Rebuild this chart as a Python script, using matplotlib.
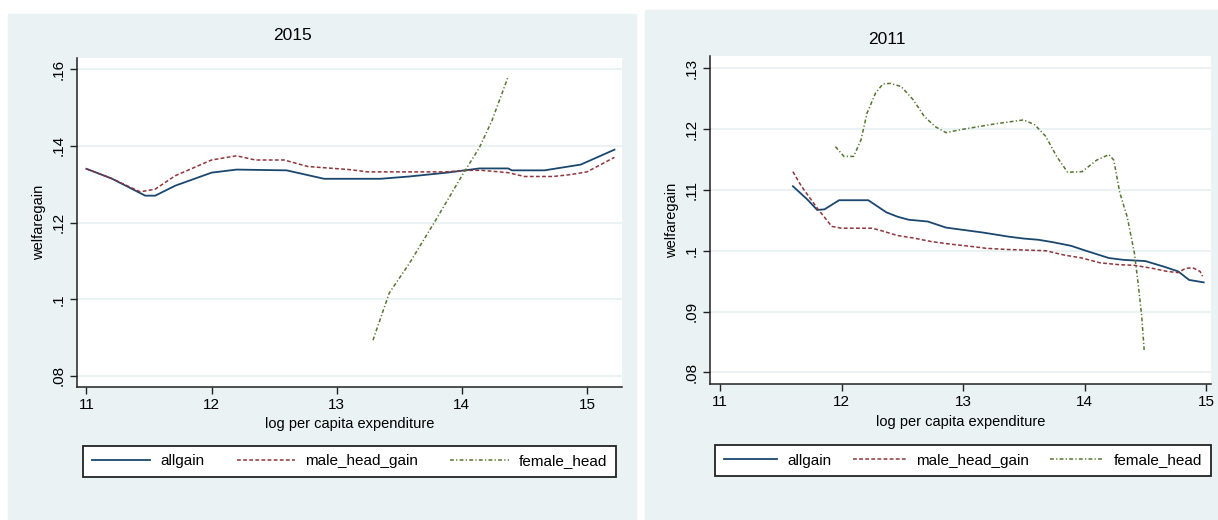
import numpy as np
import matplotlib
matplotlib.use("Agg")
import matplotlib.pyplot as plt
from matplotlib.patches import Rectangle

plt.rcParams['font.family'] = ['Liberation Sans', 'DejaVu Sans']

# 2015 panel
x15_all = [11.0, 11.2, 11.47, 11.55, 11.71, 12.0, 12.2, 12.6, 12.9, 13.35, 13.58, 13.88, 14.14, 14.37, 14.4, 14.66, 14.95, 15.22]
y15_all = [.134, .1315, .127, .127, .1296, .133, .1338, .1336, .1314, .1314, .132, .133, .1341, .1341, .1336, .1336, .1351, .139]
x15_male = [11.0, 11.2, 11.43, 11.55, 11.71, 12.0, 12.2, 12.35, 12.58, 12.77, 13.1, 13.25, 13.87, 14.05, 14.16, 14.37, 14.5, 14.73, 14.87, 15.0, 15.22]
y15_male = [.134, .1315, .128, .1287, .1322, .1363, .1374, .1363, .1363, .1346, .1338, .1332, .1332, .1336, .1336, .133, .132, .132, .1325, .1332, .137]
x15_fem = [13.29, 13.42, 13.58, 13.78, 14.01, 14.14, 14.24, 14.37]
y15_fem = [.0893, .1016, .1093, .120, .1327, .1395, .1465, .158]

# 2011 panel
x11_all = [11.60, 11.72, 11.80, 11.86, 11.98, 12.22, 12.37, 12.46, 12.55, 12.71, 12.86, 13.01, 13.16, 13.38, 13.50, 13.62, 13.74, 13.89, 14.01, 14.20, 14.32, 14.50, 14.65, 14.77, 14.86, 14.98]
y11_all = [.1106, .1084, .1067, .1068, .1083, .1083, .1063, .1056, .1051, .1048, .1038, .1034, .1030, .1023, .1020, .1018, .1014, .1008, .1000, .0988, .0985, .0983, .0974, .0966, .0952, .0948]
x11_male = [11.60, 11.67, 11.80, 11.92, 12.0, 12.25, 12.31, 12.46, 12.59, 12.74, 12.89, 13.07, 13.19, 13.37, 13.68, 13.83, 13.98, 14.13, 14.29, 14.41, 14.56, 14.68, 14.77, 14.83, 14.89, 14.95, 14.97]
y11_male = [.1130, .1106, .1070, .1040, .1037, .1037, .1034, .1025, .1021, .1015, .1011, .1007, .1004, .1002, .1000, .0993, .0988, .0980, .0977, .0976, .0971, .0966, .0964, .0971, .0972, .0966, .0958]
x11_fem = [11.95, 12.02, 12.10, 12.16, 12.21, 12.28, 12.34, 12.40, 12.49, 12.59, 12.68, 12.77, 12.86, 12.98, 13.13, 13.28, 13.50, 13.59, 13.68, 13.77, 13.86, 13.98, 14.10, 14.20, 14.24, 14.29, 14.35, 14.41, 14.44, 14.47, 14.49]
y11_fem = [.1171, .1155, .1155, .1182, .1226, .1259, .1274, .1275, .1270, .1248, .1221, .1204, .1194, .1199, .1204, .1209, .1215, .1207, .1188, .1155, .1129, .1130, .1149, .1158, .1149, .1095, .1056, .0996, .0947, .0892, .0837]

x_ticks = [11, 12, 13, 14, 15]
yt15 = [.08, .1, .12, .14, .16]
yl15 = ['.08', '.1', '.12', '.14', '.16']
yt11 = [.08, .09, .1, .11, .12, .13]
yl11 = ['.08', '.09', '.1', '.11', '.12', '.13']
names = ['allgain', 'male_head_gain', 'female_head']

navy = '#1a476f'
maroon = '#90353b'
green = '#55752f'
bg = '#eaf2f3'

W, H = 1218, 520
fig = plt.figure(figsize=(W / 100, H / 100), dpi=100)
fig.patch.set_facecolor('white')

def px(x0, y0, x1, y1):
    # pixel box -> figure fraction [left, bottom, width, height]
    return [x0 / W, 1 - y1 / H, (x1 - x0) / W, (y1 - y0) / H]

fig.patches.append(Rectangle((8 / W, 0), 628 / W, 1 - 14 / H, transform=fig.transFigure, color=bg, zorder=-5))
fig.patches.append(Rectangle((645 / W, 0), 573 / W, 1 - 10 / H, transform=fig.transFigure, color=bg, zorder=-5))


def panel(box, title, data, xlim, ylim, yt, yl, legbox, title_xy, xlab_y, hl, cs):
    ax = fig.add_axes(px(*box))
    ax.set_zorder(1)
    (xa, ya), (xm, ym), (xf, yf) = data
    l1, = ax.plot(xa, ya, color=navy, lw=1.3, solid_joinstyle='miter')
    l2, = ax.plot(xm, ym, color=maroon, lw=1.1, dashes=(2.5, 1.5))
    l3, = ax.plot(xf, yf, color=green, lw=1.1, dashes=(2.5, 1.5, 0.8, 1.5))
    ax.set_xlim(*xlim)
    ax.set_ylim(*ylim)
    ax.set_xticks(x_ticks)
    ax.set_xticklabels([str(t) for t in x_ticks], fontsize=11)
    ax.set_yticks(yt)
    ax.set_yticklabels(yl, fontsize=11, rotation=90, va='center')
    ax.yaxis.grid(True, color=bg, lw=1.5)
    ax.set_axisbelow(True)
    for s in ['top', 'right']:
        ax.spines[s].set_visible(False)
    for s in ['left', 'bottom']:
        ax.spines[s].set_color('#222222')
        ax.spines[s].set_linewidth(1.1)
    ax.tick_params(length=5, width=1, color='#222222', pad=3)
    fig.text(title_xy[0] / W, 1 - title_xy[1] / H, title, ha='center', va='center', fontsize=12.5)
    fig.text((box[0] + box[2]) / 2 / W, 1 - xlab_y / H, 'log per capita expenditure', ha='center', va='center', fontsize=10.5)
    fig.text((box[0] - 38) / W, 1 - ((box[1] + box[3]) / 2) / H, 'welfaregain', rotation=90, ha='center', va='center', fontsize=10.5)
    lx0, ly0, lx1, ly1 = legbox
    leg = ax.legend([l1, l2, l3], names, loc='center', ncol=3,
                    bbox_to_anchor=((lx0 + lx1) / 2 / W, 1 - (ly0 + ly1) / 2 / H),
                    bbox_transform=fig.transFigure, fancybox=False, framealpha=1,
                    edgecolor='#222222', fontsize=11, handlelength=hl, handletextpad=0.65,
                    borderaxespad=0, borderpad=0.55, columnspacing=cs)
    leg.get_frame().set_linewidth(1.3)
    return ax


panel((77, 58, 622, 387), '2015', [(x15_all, y15_all), (x15_male, y15_male), (x15_fem, y15_fem)],
      (10.925, 15.28), (.0771, .1629), yt15, yl15, (84, 445, 615, 478), (292, 36), 424, 3.85, 2.1)
panel((710, 56, 1211, 384), '2011', [(x11_all, y11_all), (x11_male, y11_male), (x11_fem, y11_fem)],
      (10.918, 15.04), (.0781, .1320), yt11, yl11, (717, 443, 1209, 478), (887, 40), 422, 3.5, 1.4)

fig.savefig('out.png', dpi=100)
